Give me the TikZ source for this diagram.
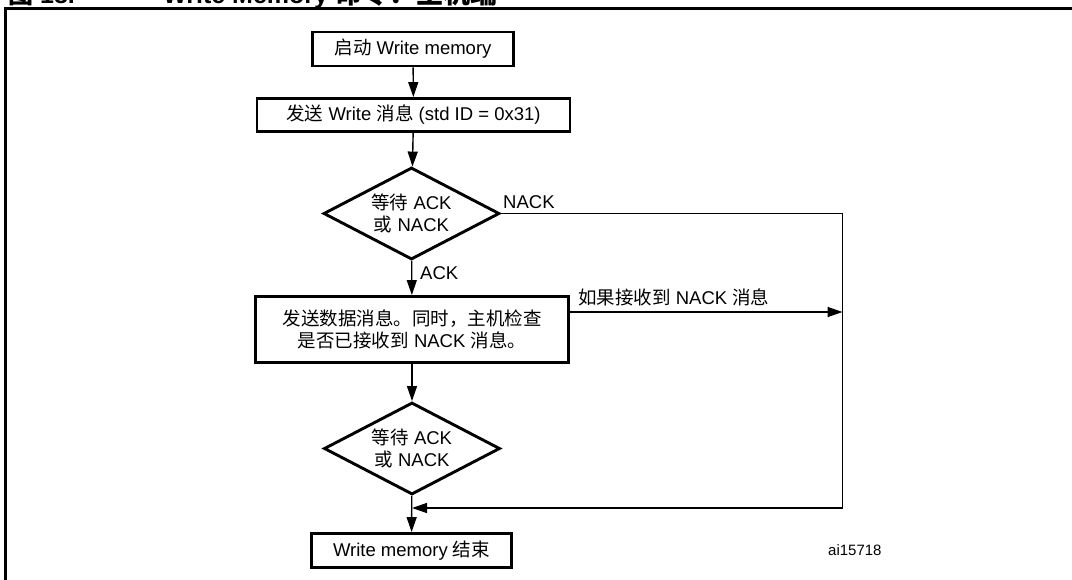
\documentclass[tikz,border=0pt]{standalone}
\usepackage{fontspec}
\setmainfont{Liberation Sans}
\newfontfamily\cjk{Noto Sans CJK SC}
\usetikzlibrary{arrows.meta,shapes.geometric}

% Chinese runs are set in the CJK family, everything else in the Latin one
\newcommand{\zh}[1]{{\cjk #1}}

\begin{document}
\begin{tikzpicture}[x=1pt,y=-1pt,
  every node/.style={font=\fontsize{18.5}{21.6}\selectfont, inner sep=0pt, text=black},
  procbox/.style={draw, line width=2.9pt, align=center},
  decision/.style={diamond, draw, line width=2.9pt, align=center,
                   aspect=1.9, minimum width=176pt, minimum height=92pt},
  flow/.style={line width=1.4pt, -{Triangle[length=15pt,width=10pt]}},
  lbl/.style={anchor=base west},
  titletext/.style={anchor=base west, font=\fontsize{25}{28}\selectfont\bfseries}]

  \useasboundingbox (0,0) rectangle (1072,579);
  \clip (0,0) rectangle (1072,579);

  % caption above the frame
  \node[titletext] (cap1) at (8,3) {\zh{图} 18.};
  \node[titletext] (cap2) at (163,3) {Write Memory {\fontsize{27}{28}\selectfont\zh{命令：主机端}}};

  % outer frame
  \draw[line width=2.6pt] (1090,8.5) -- (5.5,8.5) -- (5.5,600);

  % flow steps
  \node[procbox, minimum width=201pt, minimum height=34pt] (b1) at (413,49)
       {\zh{启动} Write memory};
  \node[procbox, minimum width=313pt, minimum height=33pt] (b2) at (413.5,115)
       {\zh{发送} Write \zh{消息} (std ID = 0x31)};
  \node[decision] (d1) at (411.5,213.5) {\zh{等待} ACK\\\zh{或} NACK};
  \node[procbox, minimum width=313pt, minimum height=66pt] (b3) at (412,329.5)
       {\zh{发送数据消息。同时，主机检查}\\\zh{是否已接收到} NACK \zh{消息。}};
  \node[decision] (d2) at (412,448.5) {\zh{等待} ACK\\\zh{或} NACK};
  \node[procbox, minimum width=200pt, minimum height=34pt] (b4) at (411.5,550.5)
       {Write memory \zh{结束}};

  % corners of the NACK return path
  \coordinate (c1) at (842.5,213.5);
  \coordinate (c3) at (842.5,312);
  \coordinate (c2) at (842.5,508);
  \coordinate (m)  at (412,508);

  % connectors
  \draw[flow] (b1) -- (b2);
  \draw[flow] (b2) -- (d1);
  \draw[flow] (d1) -- (b3);
  \draw[flow] (b3) -- (d2);
  \draw[flow] (d2) -- (b4);
  \draw[flow] (d1.east) -- (c1) -- (c2) -- (m);
  \draw[flow] (b3.east |- c3) -- (c3);

  % labels
  \node[lbl] (lnack) at (503,208) {NACK};
  \node[lbl] (lack) at (420,279) {ACK};
  \node[lbl] (lrx) at (578,304) {\zh{如果接收到} NACK \zh{消息}};
  \node[lbl, font=\fontsize{15}{18}\selectfont] (ref) at (828,555) {ai15718};
\end{tikzpicture}
\end{document}
